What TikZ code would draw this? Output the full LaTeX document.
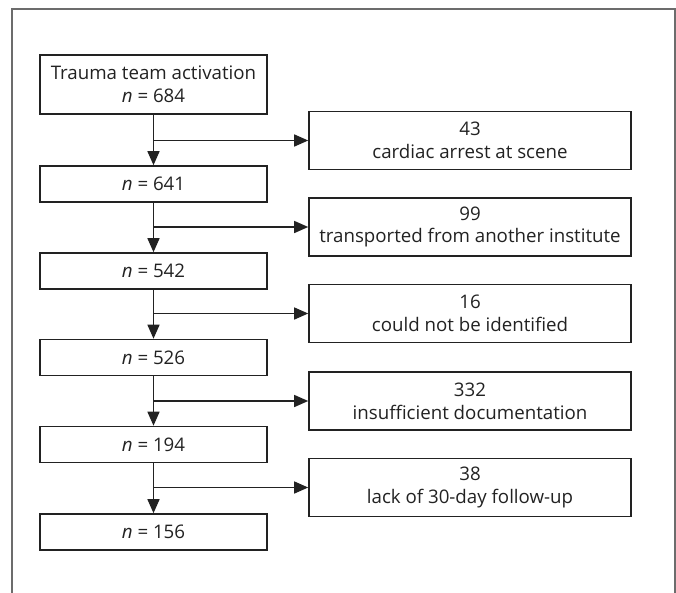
\documentclass[tikz,border=0pt]{standalone}
\usepackage{fontspec}
\setmainfont{Open Sans}
\usetikzlibrary{arrows.meta}
\definecolor{ink}{HTML}{222222}
\begin{document}
\begin{tikzpicture}[x=1pt,y=-1pt,
  every node/.style={font=\fontsize{18.7}{22.7}\selectfont, text=ink},
  mainbox/.style={draw=ink, line width=1.6pt, minimum width=227pt, align=center, inner sep=0pt},
  sidebox/.style={draw=ink, line width=1.6pt, minimum width=322pt, minimum height=58pt, align=center, inner sep=0pt},
  flow/.style={draw=ink, line width=1.4pt, -{Triangle[length=14pt,width=12pt]}}]
\useasboundingbox (0,0) rectangle (676,592);
\draw[draw=gray!85!black, line width=1.6pt] (12,9) rectangle (675,610);
% main column
\node[mainbox, minimum height=59pt] (m1) at (153.5,84.5) {Trauma team activation\\\textit{n} = 684};
\node[mainbox, minimum height=36pt] (m2) at (153.5,184) {\textit{n} = 641};
\node[mainbox, minimum height=36pt] (m3) at (153.5,271) {\textit{n} = 542};
\node[mainbox, minimum height=36pt] (m4) at (153.5,357.5) {\textit{n} = 526};
\node[mainbox, minimum height=36pt] (m5) at (153.5,444.5) {\textit{n} = 194};
\node[mainbox, minimum height=36pt] (m6) at (153.5,532) {\textit{n} = 156};
% side boxes
\node[sidebox] (s1) at (470,140.5) {43\\cardiac arrest at scene};
\node[sidebox] (s2) at (470,227) {99\\transported from another institute};
\node[sidebox] (s3) at (470,313.5) {16\\could not be identified};
\node[sidebox] (s4) at (470,401) {332\\insufficient documentation};
\node[sidebox] (s5) at (470,487.5) {38\\lack of 30-day follow-up};
% branch points
\coordinate (b1) at (153.5,140.5);
\coordinate (b2) at (153.5,227);
\coordinate (b3) at (153.5,313.5);
\coordinate (b4) at (153.5,401);
\coordinate (b5) at (153.5,487.5);
% connectors
\draw[flow] (m1.south) -- (m2.north);
\draw[flow] (m2.south) -- (m3.north);
\draw[flow] (m3.south) -- (m4.north);
\draw[flow] (m4.south) -- (m5.north);
\draw[flow] (m5.south) -- (m6.north);
\draw[flow] (b1) -- (s1.west);
\draw[flow] (b2) -- (s2.west);
\draw[flow] (b3) -- (s3.west);
\draw[flow] (b4) -- (s4.west);
\draw[flow] (b5) -- (s5.west);
\end{tikzpicture}
\end{document}
